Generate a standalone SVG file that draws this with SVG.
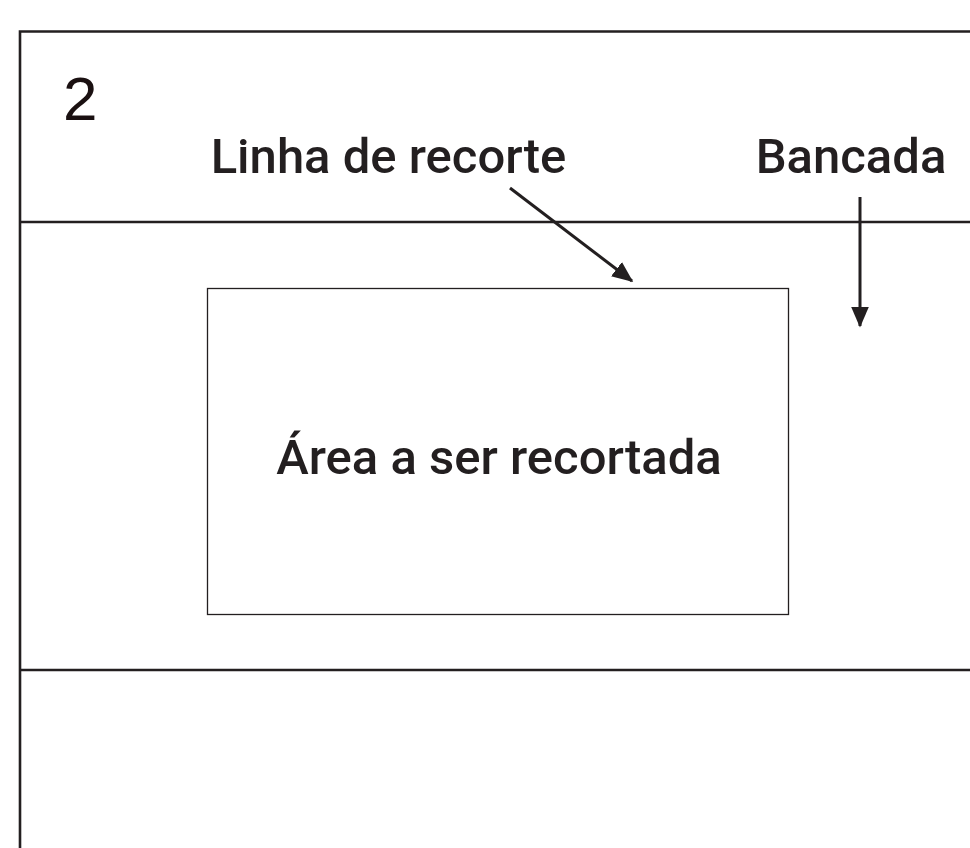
<svg xmlns="http://www.w3.org/2000/svg" width="970" height="848" viewBox="0 0 970 848">
<defs>
<style>
.frame{fill:none;stroke:#231f20;stroke-width:2.6}
.lbl{font-family:Roboto,"Liberation Sans",sans-serif;font-weight:500;fill:#231f20}
.conn{stroke:#231f20;stroke-width:3;fill:none}
</style>
<marker id="ah" markerWidth="8" markerHeight="8" refX="6.5" refY="4" orient="auto" markerUnits="strokeWidth">
<path d="M0,1 L7,4 L0,7 Z" fill="#231f20"/>
</marker>
</defs>
<rect width="970" height="848" fill="#fff"/>
<g id="bench">
<path class="frame" d="M20,848 V31.5 H970"/>
<line class="frame" x1="20" y1="222" x2="970" y2="222"/>
<line class="frame" x1="20" y1="670" x2="970" y2="670"/>
<text x="63" y="120" font-size="62" font-family="'Liberation Sans',Arial,sans-serif" fill="#1a1011">2</text>
</g>
<g id="cut-area">
<rect x="207.5" y="288.5" width="581" height="326" fill="none" stroke="#231f20" stroke-width="1.3"/>
<text class="lbl" x="499" y="474" font-size="49" text-anchor="middle">Área a ser recortada</text>
</g>
<g id="label-linha">
<text class="lbl" x="388.5" y="173" font-size="49" text-anchor="middle">Linha de recorte</text>
</g>
<g id="label-bancada">
<text class="lbl" x="851" y="173" font-size="49" text-anchor="middle">Bancada</text>
</g>
<g id="connectors">
<line class="conn" x1="510" y1="188" x2="632" y2="281" marker-end="url(#ah)"/>
<line class="conn" x1="860" y1="197" x2="860" y2="326" marker-end="url(#ah)"/>
</g>
</svg>
